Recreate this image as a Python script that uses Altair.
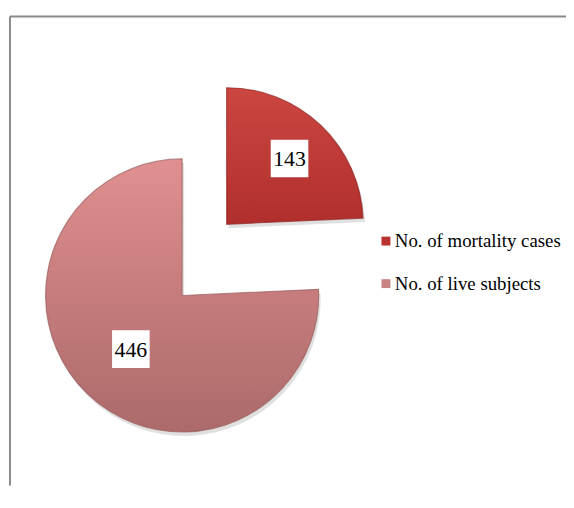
import math
import altair as alt
import pandas as pd

# ---- data ----
categories = ["No. of mortality cases", "No. of live subjects"]
values = [143, 446]
order = [0, 1]

legend_colors = ["#b8322f", "#c98282"]

df = pd.DataFrame({"category": categories, "value": values, "order": order})

FONT = "Times New Roman, Liberation Serif, serif"
R = 138
theta_scale = alt.Scale(domain=[0, 1], range=[0, 2 * math.pi])

base = (
    alt.Chart(df)
    .transform_window(cum="sum(value)", sort=[alt.SortField("order")], frame=[None, 0])
    .transform_joinaggregate(total="sum(value)")
    .transform_calculate(
        start="(datum.cum - datum.value) / datum.total",
        end="datum.cum / datum.total",
        mid="(datum.cum - datum.value / 2) / datum.total",
    )
)

grad_dark = {
    "gradient": "linear", "x1": 0, "y1": 0, "x2": 0, "y2": 1,
    "stops": [{"offset": 0, "color": "#cc4641"}, {"offset": 1, "color": "#b02f2d"}],
}
grad_pink = {
    "gradient": "linear", "x1": 0, "y1": 0, "x2": 0, "y2": 1,
    "stops": [
        {"offset": 0, "color": "#e09090"},
        {"offset": 0.5, "color": "#c67c7c"},
        {"offset": 1, "color": "#ac6a6a"},
    ],
}


def slice_layers(cat, cx, cy, grad, stroke, lr):
    b = base.transform_filter(alt.datum.category == cat)
    enc = dict(theta=alt.Theta("start:Q", scale=theta_scale), theta2="end:Q")
    shadow = b.mark_arc(radius=R, fill="black", opacity=0.12).encode(
        x=alt.value(cx + 2), y=alt.value(cy + 4), **enc
    )
    arc = b.mark_arc(radius=R, fill=grad, stroke=stroke, strokeWidth=1.2, strokeOpacity=0.7).encode(
        x=alt.value(cx), y=alt.value(cy), **enc
    )
    lab = b.transform_calculate(
        lx=f"{cx} + {lr} * sin(2 * PI * datum.mid)",
        ly=f"{cy} - {lr} * cos(2 * PI * datum.mid)",
    )
    pos = dict(
        x=alt.X("lx:Q", scale=None, axis=None),
        y=alt.Y("ly:Q", scale=None, axis=None),
    )
    box = lab.mark_square(size=38 * 38, filled=True, color="white", opacity=1).encode(**pos)
    txt = lab.mark_text(font=FONT, fontSize=22, color="black", baseline="middle", align="center", dy=1).encode(
        text="value:Q", **pos
    )
    return [shadow, arc, box, txt]


dark = slice_layers(categories[0], 221, 216, grad_dark, "#8e2422", 92)
pink = slice_layers(categories[1], 176, 288, grad_pink, "#9a5c5c", 75)

frame_df = pd.DataFrame({"a": [0]})
top_rule = alt.Chart(frame_df).mark_rule(color="#8a8a8a", strokeWidth=2).encode(
    x=alt.value(2), x2=alt.value(564), y=alt.value(6)
)
left_rule = alt.Chart(frame_df).mark_rule(color="#8a8a8a", strokeWidth=2).encode(
    x=alt.value(2), y=alt.value(6), y2=alt.value(480)
)

leg_y = alt.Y(
    "category:N", sort=categories,
    scale=alt.Scale(type="point", range=[233, 276], padding=0), axis=None,
)
leg_sq = alt.Chart(df).mark_square(size=81, filled=True, opacity=1).encode(
    x=alt.value(382),
    y=leg_y,
    color=alt.Color("category:N", sort=categories,
                    scale=alt.Scale(domain=categories, range=legend_colors), legend=None),
)
leg_txt = alt.Chart(df).mark_text(font=FONT, fontSize=19, color="black", align="left", baseline="middle").encode(
    x=alt.value(391), y=leg_y, text="category:N"
)

chart = (
    alt.layer(top_rule, left_rule, *pink, *dark, leg_sq, leg_txt)
    .resolve_scale(x="independent", y="independent", color="independent")
    .properties(width=564, height=480, autosize=alt.AutoSizeParams(type="none"), padding=0,
                background="white")
    .configure_view(stroke=None)
)

chart.save("out.html", embed_options={"renderer": "svg", "actions": False})
